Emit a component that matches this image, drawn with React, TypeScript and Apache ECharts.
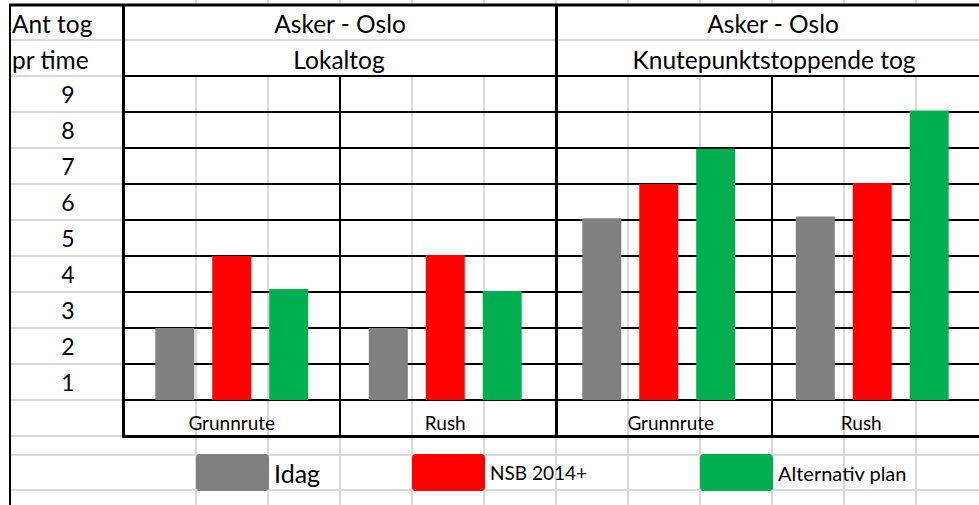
import React, { useEffect, useRef } from "react";
import * as echarts from "echarts";

const categories = ["Grunnrute", "Rush", "Grunnrute", "Rush"];
const seriesNames = ["Idag", "NSB 2014+", "Alternativ plan"];
const idag = [2, 2, 5.05, 5.1];
const nsb = [4, 4.03, 6, 6.03];
const alternativ = [3.08, 3.03, 6.98, 8.04];
const groupTitles = ["Asker - Oslo", "Asker - Oslo"];
const groupSubtitles = ["Lokaltog", "Knutepunktstoppende tog"];
const rowHeader = ["Ant tog", "pr time"];

const FONT = "Lato, 'Open Sans', sans-serif";
const COLORS = ["#808080", "#ff0000", "#00b050"];
const GRID = "#d9d9d9";

export default function App() {
  const ref = useRef<HTMLDivElement>(null);
  useEffect(() => {
    const chart = echarts.init(ref.current!, null, { renderer: "svg" });
    const g: any[] = [];
    const line = (x1: number, y1: number, x2: number, y2: number, w: number, color: string, z: number) =>
      g.push({ type: "line", silent: true, z, shape: { x1, y1, x2, y2 }, style: { stroke: color, lineWidth: w } });
    const text = (t: string, x: number, y: number, align: string, size: number) =>
      g.push({
        type: "text", silent: true, z: 60, x, y,
        style: { text: t, align, verticalAlign: "middle", fontSize: size, fontFamily: FONT, fill: "#000" },
      });

    // spreadsheet gridlines
    [196, 268, 340, 412, 484, 556, 628, 700, 772, 844, 916].forEach((x) => {
      line(x, 76, x, 505, 2, GRID, -5);
      line(x, 0, x, 4, 2, GRID, -5);
    });
    line(10, 40, 979, 40, 2, GRID, -5);
    for (let y = 76; y <= 436; y += 36) line(10, y, 123, y, 2, GRID, -5);
    line(10, 455, 979, 455, 2, GRID, -5);
    line(10, 490, 979, 490, 2, GRID, -5);

    // borders
    line(10, 4, 10, 505, 2, "#000", 50);
    line(9, 5, 979, 5, 3, "#000", 50);
    line(123.5, 4, 123.5, 437.5, 3, "#000", 50);
    line(556.5, 4, 556.5, 437.5, 3, "#000", 50);
    line(122, 436.5, 979, 436.5, 3, "#000", 50);
    line(340, 76, 340, 436, 2, "#000", 50);
    line(772, 76, 772, 436, 2, "#000", 50);

    // headers
    text(rowHeader[0], 12, 23, "left", 24.5);
    text(rowHeader[1], 12, 59, "left", 24.5);
    text(groupTitles[0], 340, 23, "center", 24.5);
    text(groupSubtitles[0], 339, 59, "center", 24.5);
    text(groupTitles[1], 773, 23, "center", 24.5);
    text(groupSubtitles[1], 774, 59, "center", 24.5);

    const iconPath =
      "path://M4,0H69A4,4,0,0,1,73,4V33A4,4,0,0,1,69,37H4A4,4,0,0,1,0,33V4A4,4,0,0,1,4,0Z";
    const legendLeft = [196, 412, 700];
    const legendSize = [25, 19, 20];
    const seriesData = [idag, nsb, alternativ];

    chart.setOption({
      animation: false,
      backgroundColor: "#ffffff",
      grid: { left: 125, top: 76, width: 864, height: 324, containLabel: false },
      legend: seriesNames.map((name, i) => ({
        data: [name],
        left: legendLeft[i],
        top: 454,
        padding: 0,
        itemGap: 0,
        itemWidth: 73,
        itemHeight: 37,
        icon: iconPath,
        selectedMode: false,
        textStyle: { fontSize: legendSize[i], fontFamily: FONT, color: "#000", padding: [3, 0, 0, 0] },
      })),
      xAxis: {
        type: "category",
        data: categories,
        axisLine: { show: false },
        axisTick: { show: false },
        splitLine: { show: false },
        axisLabel: {
          margin: 13,
          color: "#000",
          fontSize: 19,
          fontFamily: FONT,
          formatter: (v: string, i: number) => `{c${i}|${v}}`,
          rich: {
            c0: { fontSize: 19, fontFamily: FONT, color: "#000" },
            c1: { fontSize: 19, fontFamily: FONT, color: "#000" },
            c2: { fontSize: 19, fontFamily: FONT, color: "#000", padding: [0, 0, 0, 24] },
            c3: { fontSize: 19, fontFamily: FONT, color: "#000", padding: [0, 22, 0, 0] },
          },
        },
      },
      yAxis: {
        type: "value",
        min: 0,
        max: 9,
        interval: 1,
        axisLine: { show: false },
        axisTick: { show: false },
        splitLine: { show: true, lineStyle: { color: "#000", width: 2 } },
        axisLabel: {
          margin: 57,
          align: "center",
          verticalAlign: "top",
          lineHeight: 36,
          fontSize: 23,
          fontFamily: FONT,
          color: "#000",
          formatter: (v: number) => (v === 0 ? "" : String(v)),
        },
      },
      series: seriesNames.map((name, i) => ({
        name,
        type: "bar",
        data: seriesData[i],
        barWidth: 39,
        barGap: "46%",
        itemStyle: { color: COLORS[i] },
        z: 10,
      })),
      graphic: { elements: g },
    });
    return () => chart.dispose();
  }, []);
  return (
    <div
      ref={ref}
      style={{ position: "fixed", left: 0, top: 0, width: 979, height: 505, background: "#fff" }}
    />
  );
}
